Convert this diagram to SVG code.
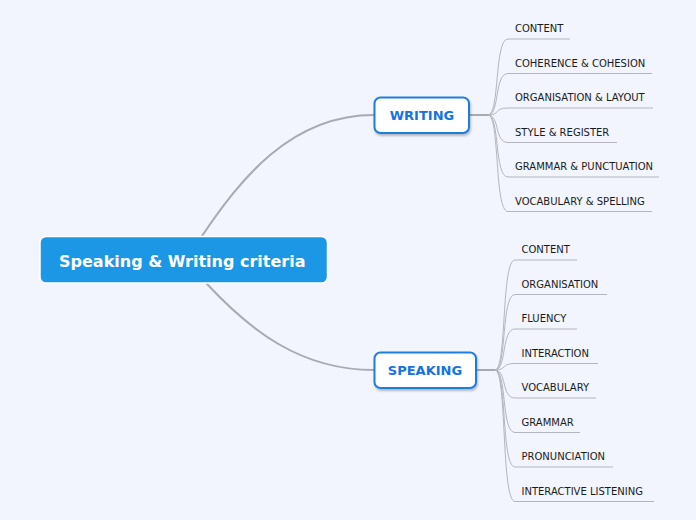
<svg xmlns="http://www.w3.org/2000/svg" width="696" height="520" viewBox="0 0 696 520">
<defs>
<filter id="sh" x="-20%" y="-20%" width="140%" height="150%">
<feDropShadow dx="1" dy="2" stdDeviation="1.2" flood-color="#000" flood-opacity="0.25"/>
</filter>
<style>
.main{fill:none;stroke:#a9a9b2;stroke-width:2;stroke-linecap:round}
.sub{fill:none;stroke:#b4b4bc;stroke-width:1}
.lbl{font-family:"DejaVu Sans",Verdana,sans-serif;font-size:10px;fill:#1a1a1a}
.tnode{fill:#fff;stroke:#1e7fe0;stroke-width:2}
.ttxt{font-family:"DejaVu Sans",Verdana,sans-serif;font-size:13px;font-weight:bold;fill:#1473e0;text-anchor:middle}
</style>
</defs>
<rect width="696" height="520" fill="#f2f5fd"/>
<g id="connectors">
<path class="main" d="M202 236 C240 180 290 115 374 115"/>
<path class="main" d="M207 284 C250 330 300 370 374 370"/>
<path class="main" d="M469 115 L488 115"/>
<path class="main" d="M476 370 L495 370"/>
<path class="sub" d="M488 115 C500 115 494 39 508 39 L570 39"/>
<path class="sub" d="M488 115 C500 115 494 73.5 508 73.5 L652 73.5"/>
<path class="sub" d="M488 115 C500 115 494 108 508 108 L653 108"/>
<path class="sub" d="M488 115 C500 115 494 142.5 508 142.5 L617 142.5"/>
<path class="sub" d="M488 115 C500 115 494 177 508 177 L659 177"/>
<path class="sub" d="M488 115 C500 115 494 211.5 508 211.5 L652 211.5"/>
<path class="sub" d="M495 370 C507 370 501 260 515 260 L577 260"/>
<path class="sub" d="M495 370 C507 370 501 294.5 515 294.5 L607 294.5"/>
<path class="sub" d="M495 370 C507 370 501 329 515 329 L577 329"/>
<path class="sub" d="M495 370 C507 370 501 363.5 515 363.5 L598 363.5"/>
<path class="sub" d="M495 370 C507 370 501 398 515 398 L596 398"/>
<path class="sub" d="M495 370 C507 370 501 432.5 515 432.5 L580 432.5"/>
<path class="sub" d="M495 370 C507 370 501 467 515 467 L613 467"/>
<path class="sub" d="M495 370 C507 370 501 501.5 515 501.5 L654 501.5"/>
</g>
<g id="central">
<rect x="40" y="236.5" width="287.5" height="46.5" rx="6" fill="#1b97e6" stroke="#fff" stroke-width="1.5"/>
<text x="59" y="266.5" font-family="'DejaVu Sans',Verdana,sans-serif" font-size="16" font-weight="bold" fill="#fff">Speaking &amp; Writing criteria</text>
</g>
<g id="writing">
<rect class="tnode" x="374.5" y="97.5" width="94.5" height="35.5" rx="6" filter="url(#sh)"/>
<text class="ttxt" x="422" y="119.5">WRITING</text>
</g>
<g id="speaking">
<rect class="tnode" x="374.5" y="352.5" width="101.5" height="35.5" rx="6" filter="url(#sh)"/>
<text class="ttxt" x="425" y="374.5">SPEAKING</text>
</g>
<g id="w-content"><text class="lbl" x="515" y="32">CONTENT</text></g>
<g id="w-coherence"><text class="lbl" x="515" y="66.5">COHERENCE &amp; COHESION</text></g>
<g id="w-organisation"><text class="lbl" x="515" y="101">ORGANISATION &amp; LAYOUT</text></g>
<g id="w-style"><text class="lbl" x="515" y="135.5">STYLE &amp; REGISTER</text></g>
<g id="w-grammar"><text class="lbl" x="515" y="170">GRAMMAR &amp; PUNCTUATION</text></g>
<g id="w-vocabulary"><text class="lbl" x="515" y="204.5">VOCABULARY &amp; SPELLING</text></g>
<g id="s-content"><text class="lbl" x="521.5" y="253">CONTENT</text></g>
<g id="s-organisation"><text class="lbl" x="521.5" y="287.5">ORGANISATION</text></g>
<g id="s-fluency"><text class="lbl" x="521.5" y="322">FLUENCY</text></g>
<g id="s-interaction"><text class="lbl" x="521.5" y="356.5">INTERACTION</text></g>
<g id="s-vocabulary"><text class="lbl" x="521.5" y="391">VOCABULARY</text></g>
<g id="s-grammar"><text class="lbl" x="521.5" y="425.5">GRAMMAR</text></g>
<g id="s-pronunciation"><text class="lbl" x="521.5" y="460">PRONUNCIATION</text></g>
<g id="s-listening"><text class="lbl" x="521.5" y="494.5">INTERACTIVE LISTENING</text></g>
</svg>
